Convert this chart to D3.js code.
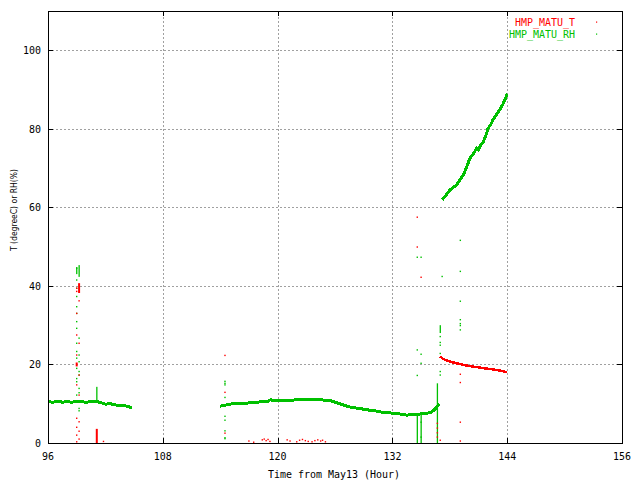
<!DOCTYPE html>
<html lang="en">
  <head>
    <meta charset="utf-8" />
    <title>HMP_MATU</title>
    <script src="https://cdn.jsdelivr.net/npm/d3@7"></script>
    <style>
      body { margin: 0; background: #fff; }
    </style>
  </head>
  <body>
    <svg id="chart" width="640" height="480"></svg>
    <script>
      // axis ticks
      const xTicks = [96, 108, 120, 132, 144, 156];
      const yTicks = [0, 20, 40, 60, 80, 100];

      // RH band, three pieces [hour, %]
      const rhSeg1 = [
        [96.0, 10.5], [96.5, 10.4], [97.0, 10.6], [97.5, 10.4], [98.0, 10.5],
        [98.5, 10.4], [99.0, 10.6], [99.5, 10.5], [100.0, 10.4], [100.5, 10.5],
        [101.0, 10.6], [101.5, 10.3], [102.0, 9.9], [102.5, 10.0], [103.0, 9.7],
        [103.5, 9.6], [104.0, 9.5], [104.5, 9.2], [104.8, 8.9]
      ];
      const rhSeg2 = [
        [114.0, 9.4], [114.5, 9.6], [115.0, 9.9], [115.5, 10.0], [116.0, 10.1],
        [116.5, 10.1], [117.0, 10.2], [117.5, 10.4], [118.0, 10.4], [118.5, 10.6],
        [119.0, 10.6], [119.3, 11.1], [119.5, 10.8], [120.0, 10.8], [120.5, 10.8],
        [121.0, 10.9], [121.5, 10.9], [122.0, 11.0], [122.5, 11.0], [123.0, 11.1],
        [123.5, 11.0], [124.0, 11.0], [124.5, 11.0], [125.0, 10.9], [125.5, 10.8],
        [126.0, 10.4], [126.5, 10.0], [127.0, 9.6], [127.5, 9.2], [128.0, 9.0],
        [128.5, 8.8], [129.0, 8.6], [129.5, 8.4], [130.0, 8.3], [130.5, 8.0],
        [131.0, 7.8], [131.5, 7.7], [132.0, 7.6], [132.5, 7.5], [133.0, 7.3],
        [133.5, 7.1], [134.0, 7.2], [134.5, 7.3], [135.0, 7.4], [135.5, 7.5],
        [136.0, 7.8], [136.3, 8.3], [136.6, 9.0], [136.9, 10.0]
      ];
      const rhSeg3 = [
        [137.2, 61.9], [137.5, 62.8], [138.0, 64.4], [138.5, 65.3], [138.7, 65.7],
        [139.0, 66.8], [139.4, 68.2], [139.8, 70.5], [140.1, 72.5], [140.5, 73.8],
        [140.8, 75.0], [141.0, 74.6], [141.2, 75.8], [141.5, 76.7], [141.8, 78.5],
        [142.0, 80.1], [142.3, 81.2], [142.5, 82.2], [142.8, 83.3], [143.2, 84.8],
        [143.5, 86.0], [143.9, 88.2], [144.0, 89.0]
      ];

      // T band [hour, degC]
      const tSeg = [
        [137.0, 22.0], [137.3, 21.4], [137.7, 21.0], [138.2, 20.6], [138.7, 20.3],
        [139.1, 20.1], [139.6, 19.8], [140.1, 19.6], [140.6, 19.4], [141.2, 19.2],
        [141.7, 19.0], [142.3, 18.8], [142.9, 18.6], [143.5, 18.3], [144.0, 18.0]
      ];

      // scattered single readings
      const rhDots = [
        [99.0, 44.5], [99.0, 41.5], [99.0, 39.4], [99.0, 37.3], [99.0, 34.7],
        [99.0, 33.0], [99.0, 30.9], [99.0, 29.2], [99.25, 26.7], [99.0, 25.4],
        [99.0, 23.3], [99.25, 22.4], [99.0, 21.6], [99.25, 20.7], [99.0, 19.0],
        [99.25, 17.3], [99.0, 15.6], [99.25, 13.9], [99.0, 12.2], [99.25, 12.8],
        [99.25, 8.8], [99.25, 8.2], [99.0, 16.4], [99.25, 18.2],
        [114.5, 15.7], [114.5, 15.2], [114.5, 14.8], [114.5, 11.6], [114.5, 6.8],
        [114.5, 5.8], [114.5, 3.1], [114.5, 1.35], [114.5, 1.1],
        [134.6, 47.3], [135.0, 47.3], [134.6, 23.7], [135.0, 22.6], [135.0, 20.3],
        [134.6, 17.2], [135.0, 5.3], [135.0, 1.5],
        [137.0, 27.1], [137.0, 25.6], [137.0, 24.9], [137.0, 22.8], [137.0, 18.2],
        [137.0, 17.3], [137.2, 42.4],
        [139.1, 51.6], [139.1, 43.7], [139.1, 36.1], [139.1, 31.4], [139.1, 30.4],
        [139.1, 29.9], [139.1, 28.8]
      ];
      const tDots = [
        [99.25, 36.2], [99.0, 33.0], [99.0, 27.5], [99.25, 25.4], [99.0, 22.4],
        [99.25, 17.3], [99.0, 14.8], [99.25, 12.2], [99.0, 6.3], [99.25, 5.4],
        [99.0, 4.0], [99.25, 3.0], [99.0, 2.0], [99.25, 1.0], [99.0, 0.3],
        [99.0, 38.6], [99.0, 39.4],
        [101.8, 0.4],
        [114.5, 22.3], [114.5, 12.9], [114.5, 2.5],
        [117.0, 0.5], [117.5, 0.2], [118.4, 0.8], [118.6, 1.0], [118.8, 0.6],
        [119.0, 0.9], [119.2, 0.4], [121.0, 0.8], [121.3, 0.5], [122.0, 0.3],
        [122.3, 0.7], [122.6, 0.9], [122.9, 0.6], [123.2, 0.4], [123.6, 0.3],
        [123.9, 0.6], [124.2, 0.8], [124.5, 0.5], [124.7, 0.7], [125.0, 0.3],
        [134.6, 57.5], [134.6, 49.9], [135.0, 42.2],
        [136.7, 5.0], [136.7, 3.8], [136.7, 2.6], [136.7, 1.5], [137.0, 0.7],
        [139.1, 17.5], [139.1, 15.4], [139.1, 5.3], [139.1, 0.5]
      ];

      // runs of dense readings drawn as short columns [hour, from, to]
      const rhBars = [
        [99.0, 43.0, 44.8], [99.25, 42.3, 45.3], [101.1, 10.5, 14.3],
        [134.6, 0, 7.3], [135.0, 0, 7.4], [136.7, 0, 15.2], [137.0, 28.0, 30.0]
      ];
      const tBars = [
        [99.25, 38.2, 40.7], [99.0, 19.5, 20.5], [101.1, 0, 3.6]
      ];

      const legendNames = ["HMP_MATU_T", "HMP_MATU_RH"];
      const red = "#ff0000";
      const green = "#00c000";

      const svg = d3.select("#chart");
      const mono = "'DejaVu Sans Mono', monospace";

      const x = d3.scaleLinear().domain([96, 156]).range([48, 622]);
      const y = d3.scaleLinear().domain([0, 110]).range([443, 11]);

      // grid
      const grid = svg.append("g")
        .attr("stroke", "#a0a0a0")
        .attr("stroke-width", 1)
        .attr("stroke-dasharray", "2,2");
      grid.selectAll(".gx")
        .data(xTicks.filter(d => d > 96 && d < 156))
        .enter().append("line")
        .attr("x1", d => Math.round(x(d)) + 0.5).attr("x2", d => Math.round(x(d)) + 0.5)
        .attr("y1", y(0)).attr("y2", y(110));
      grid.selectAll(".gy")
        .data(yTicks.filter(d => d > 0))
        .enter().append("line")
        .attr("x1", x(96)).attr("x2", x(156))
        .attr("y1", d => Math.round(y(d)) + 0.5).attr("y2", d => Math.round(y(d)) + 0.5);

      // bands
      const line = d3.line().x(d => x(d[0])).y(d => y(d[1]));
      [rhSeg1, rhSeg2, rhSeg3].forEach(seg => {
        svg.append("path")
          .attr("d", line(seg))
          .attr("fill", "none")
          .attr("stroke", green)
          .attr("stroke-width", 3)
          .attr("shape-rendering", "crispEdges");
      });
      svg.append("path")
        .attr("d", line(tSeg))
        .attr("fill", "none")
        .attr("stroke", red)
        .attr("stroke-width", 2.5)
        .attr("shape-rendering", "crispEdges");

      // columns
      svg.selectAll(".rhbar")
        .data(rhBars)
        .enter().append("rect")
        .attr("x", d => x(d[0]) - 0.6)
        .attr("y", d => y(d[2]))
        .attr("width", 1.3)
        .attr("height", d => y(d[1]) - y(d[2]))
        .attr("fill", green);
      svg.selectAll(".tbar")
        .data(tBars)
        .enter().append("rect")
        .attr("x", d => x(d[0]) - 1)
        .attr("y", d => y(d[2]))
        .attr("width", 2)
        .attr("height", d => y(d[1]) - y(d[2]))
        .attr("fill", red);

      // dots
      svg.selectAll(".rhdot")
        .data(rhDots)
        .enter().append("rect")
        .attr("x", d => x(d[0]) - 0.7)
        .attr("y", d => y(d[1]) - 0.7)
        .attr("width", 1.4).attr("height", 1.4)
        .attr("fill", green);
      svg.selectAll(".tdot")
        .data(tDots)
        .enter().append("rect")
        .attr("x", d => x(d[0]) - 0.7)
        .attr("y", d => y(d[1]) - 0.7)
        .attr("width", 1.4).attr("height", 1.4)
        .attr("fill", red);

      // border and inward ticks
      svg.append("rect")
        .attr("x", 48.5).attr("y", 11.5)
        .attr("width", 574).attr("height", 432)
        .attr("fill", "none").attr("stroke", "#000");

      const ticks = svg.append("g").attr("stroke", "#000");
      xTicks.forEach(t => {
        const px = Math.round(x(t)) + 0.5;
        ticks.append("line").attr("x1", px).attr("x2", px).attr("y1", 443).attr("y2", 438);
        ticks.append("line").attr("x1", px).attr("x2", px).attr("y1", 11).attr("y2", 16);
      });
      yTicks.forEach(t => {
        const py = Math.round(y(t)) + 0.5;
        ticks.append("line").attr("x1", 48).attr("x2", 53).attr("y1", py).attr("y2", py);
        ticks.append("line").attr("x1", 622).attr("x2", 617).attr("y1", py).attr("y2", py);
      });

      // tick labels
      svg.selectAll(".xl")
        .data(xTicks)
        .enter().append("text")
        .attr("x", d => x(d))
        .attr("y", 460)
        .attr("text-anchor", "middle")
        .attr("font-family", mono)
        .attr("font-size", "11px")
        .attr("textLength", d => String(d).length * 6)
        .attr("lengthAdjust", "spacingAndGlyphs")
        .text(d => d);
      svg.selectAll(".yl")
        .data(yTicks)
        .enter().append("text")
        .attr("x", 41)
        .attr("y", d => y(d) + 4)
        .attr("text-anchor", "end")
        .attr("font-family", mono)
        .attr("font-size", "11px")
        .attr("textLength", d => String(d).length * 6)
        .attr("lengthAdjust", "spacingAndGlyphs")
        .text(d => d);

      // axis titles
      svg.append("text")
        .attr("x", 334).attr("y", 478)
        .attr("text-anchor", "middle")
        .attr("font-family", mono)
        .attr("font-size", "11px")
        .attr("textLength", 132)
        .attr("lengthAdjust", "spacingAndGlyphs")
        .text("Time from May13 (Hour)");
      svg.append("text")
        .attr("transform", "translate(17,210) rotate(-90)")
        .attr("text-anchor", "middle")
        .attr("font-family", "'DejaVu Sans', sans-serif")
        .attr("font-size", "9.5px")
        .attr("textLength", 82)
        .attr("lengthAdjust", "spacingAndGlyphs")
        .text("T (degreeC) or RH(%)");

      // legend
      const legend = svg.selectAll(".legend")
        .data(legendNames)
        .enter().append("g")
        .attr("transform", (d, i) => `translate(0, ${22 + i * 12})`);
      legend.append("text")
        .attr("x", 575).attr("y", 4)
        .attr("text-anchor", "end")
        .attr("font-family", mono)
        .attr("font-size", "11px")
        .attr("textLength", d => d.length * 6)
        .attr("lengthAdjust", "spacingAndGlyphs")
        .attr("fill", (d, i) => i === 0 ? red : green)
        .text(d => d);
      legend.append("rect")
        .attr("x", 596).attr("y", -0.5)
        .attr("width", 1.2).attr("height", 1.2)
        .attr("fill", (d, i) => i === 0 ? red : green);
    </script>
  </body>
</html>
